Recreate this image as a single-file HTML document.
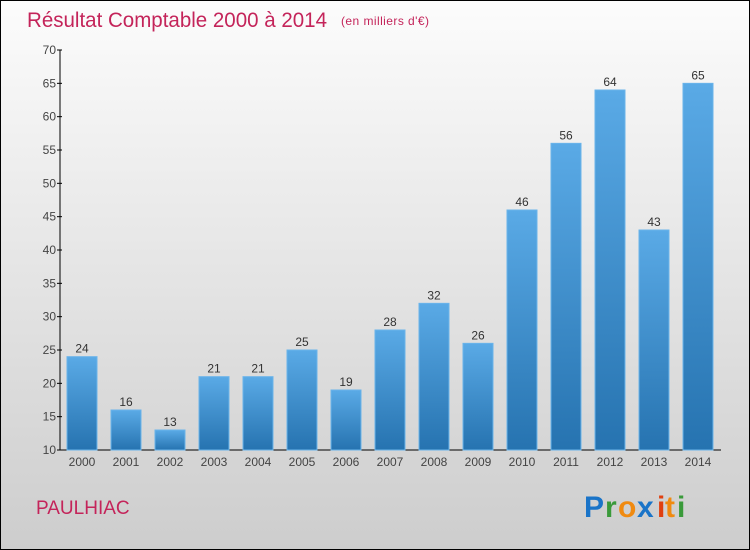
<!DOCTYPE html>
<html><head><meta charset="utf-8"><style>
body{margin:0;width:750px;height:550px;overflow:hidden;font-family:"Liberation Sans",sans-serif}
#wrap{position:absolute;left:0;top:0;width:748px;height:548px;border:1px solid #000;background:linear-gradient(#fcfcfc,#cdcdcd)}
</style></head><body>
<div id="wrap">
<svg width="750" height="550" style="position:absolute;left:-1px;top:-1px">
<defs><linearGradient id="bg" x1="0" y1="0" x2="0" y2="1"><stop offset="0" stop-color="#5aaae6"/><stop offset="1" stop-color="#2673b0"/></linearGradient></defs>
<text x="27" y="27" font-size="21" fill="#c4245a" textLength="300" lengthAdjust="spacingAndGlyphs">Résultat Comptable 2000 à 2014</text>
<text x="341" y="25" font-size="12" fill="#c4245a" textLength="88">(en milliers d'€)</text>
<g id="axes"></g><g id="bars"></g>
<text x="36" y="514" font-size="19" fill="#c4245a">PAULHIAC</text>
<g font-size="30" font-weight="bold" font-family="'Liberation Sans',sans-serif">
<text x="584" y="517" fill="#1a74c8">P</text><text x="605" y="517" fill="#3a9a3a">r</text><text x="618" y="517" fill="#f08a10">o</text><text x="637" y="517" fill="#1a74c8">x</text><text x="657" y="517" fill="#e04010">i</text><text x="665" y="517" fill="#f08a10">t</text><text x="677" y="517" fill="#3a9a3a">i</text>
</g>
</svg></div>
<script>
const years=["2000","2001","2002","2003","2004","2005","2006","2007","2008","2009","2010","2011","2012","2013","2014"];
const values=[24,16,13,21,21,25,19,28,32,26,46,56,64,43,65];
const yTicks=[10,15,20,25,30,35,40,45,50,55,60,65,70];
const NS="http://www.w3.org/2000/svg";
const y=v=>450-(v-10)*400/60;
const x=i=>82+i*44;
function mk(t,a,p){const e=document.createElementNS(NS,t);for(const k in a)e.setAttribute(k,a[k]);p.appendChild(e);return e;}
const ax=document.getElementById('axes'),bg=document.getElementById('bars');
let l=mk('line',{x1:60,y1:50,x2:60,y2:450,stroke:'#000'},ax);


l=mk('line',{x1:60,y1:450,x2:721,y2:450,stroke:'#000'},ax);


yTicks.forEach(v=>{mk('line',{x1:57,y1:y(v),x2:62,y2:y(v),stroke:'#000'},ax);
const t=mk('text',{x:56,y:y(v)+4,'font-size':12,fill:'#444','text-anchor':'end'},ax);t.textContent=v;

});
years.forEach((yr,i)=>{const v=values[i];
const r=mk('rect',{x:x(i)-15,y:y(v),width:30,height:450-y(v),fill:'url(#bg)',stroke:'#6ab4ea','stroke-width':1},bg);


const t=mk('text',{x:x(i),y:y(v)-4,'font-size':12,fill:'#333','text-anchor':'middle'},bg);t.textContent=v;


const u=mk('text',{x:x(i),y:466,'font-size':12,fill:'#444','text-anchor':'middle'},bg);u.textContent=yr;

});
</script></body></html>
